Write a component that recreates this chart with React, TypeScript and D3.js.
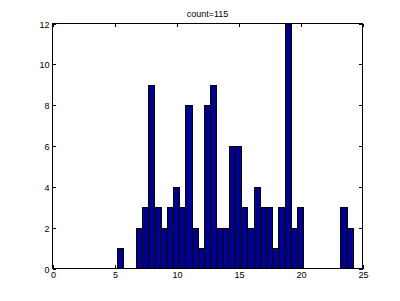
import React from "react";
import * as d3 from "d3";

const binStart = 5.22;
const binWidth = 0.5;
const counts = [1, 0, 0, 2, 3, 9, 3, 2, 3, 4, 3, 8, 2, 1, 8, 9, 2, 2, 6, 6, 3, 2, 4, 3, 3, 1, 3, 12, 2, 3, 0, 0, 0, 0, 0, 0, 3, 2];
const xTicks = [0, 5, 10, 15, 20, 25];
const yTicks = [0, 2, 4, 6, 8, 10, 12];
const titleText = "count=115";

export default function App() {
  const W = 400, H = 301;
  const left = 52.5, right = 362.5, top = 23.5, bottom = 268.5;
  const x = d3.scaleLinear().domain([0, 25]).range([left, right]);
  const y = d3.scaleLinear().domain([0, 12]).range([bottom, top]);
  const font = "Liberation Sans, Arial, Helvetica, sans-serif";
  const tick = 3.5;
  return (
    <svg width={W} height={H} style={{ position: "absolute", left: 0, top: 0, background: "#fff" }}>
      <rect x={0} y={0} width={W} height={H} fill="#fff" />
      {counts.map((c, i) => {
        if (c === 0) return null;
        const x0 = Math.round(x(binStart + i * binWidth)) + 0.5;
        const x1 = Math.round(x(binStart + (i + 1) * binWidth)) + 0.5;
        const y1 = Math.round(y(c)) + 0.5;
        return (
          <rect key={i} x={x0} y={y1} width={x1 - x0} height={bottom - y1}
            fill="#00008F" stroke="#000" strokeWidth={1} shapeRendering="crispEdges" />
        );
      })}
      <rect x={left} y={top} width={right - left} height={bottom - top} fill="none" stroke="#000" strokeWidth={1} shapeRendering="crispEdges" />
      {xTicks.map((t) => {
        const px = Math.round(x(t)) + 0.5;
        return (
          <g key={"x" + t}>
            <line x1={px} x2={px} y1={bottom} y2={bottom - tick} stroke="#000" shapeRendering="crispEdges" />
            <line x1={px} x2={px} y1={top} y2={top + tick} stroke="#000" shapeRendering="crispEdges" />
            <text x={px} y={bottom + 9} fontSize={9} fontFamily={font} textAnchor="middle">{t}</text>
          </g>
        );
      })}
      {yTicks.map((t) => {
        const py = Math.round(y(t)) + 0.5;
        return (
          <g key={"y" + t}>
            <line x1={left} x2={left + tick} y1={py} y2={py} stroke="#000" shapeRendering="crispEdges" />
            <line x1={right} x2={right - tick} y1={py} y2={py} stroke="#000" shapeRendering="crispEdges" />
            <text x={left - 3} y={py + 3} fontSize={9} fontFamily={font} textAnchor="end">{t}</text>
          </g>
        );
      })}
      <text x={(left + right) / 2} y={17} fontSize={9} fontFamily={font} textAnchor="middle">{titleText}</text>
    </svg>
  );
}
